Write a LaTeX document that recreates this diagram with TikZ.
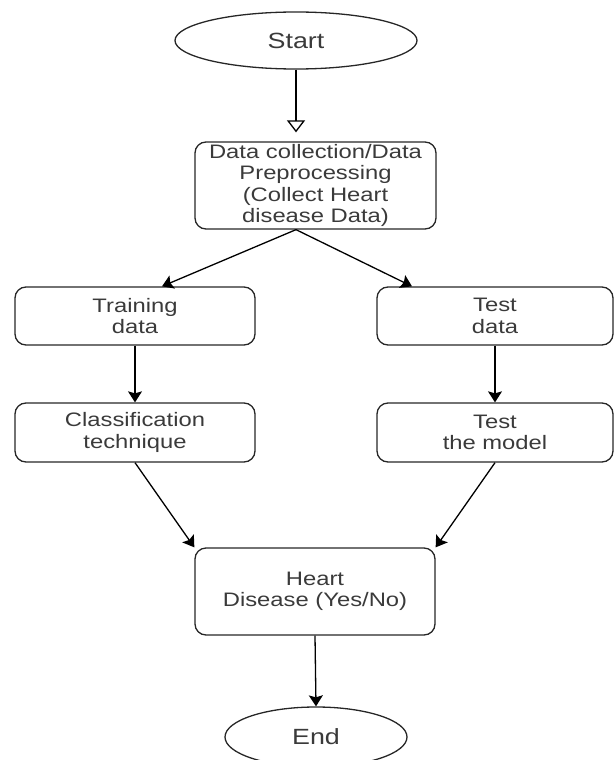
\documentclass[tikz,border=0pt]{standalone}
\usepackage{fontspec}
\setmainfont{Liberation Sans}[FakeStretch=1.22]
\usepackage{tikz}
\usetikzlibrary{calc,arrows.meta,shapes.geometric}
\usepackage{xcolor}
\definecolor{txtgray}{HTML}{3A3A3A}
\definecolor{edgegray}{HTML}{262626}

\begin{document}
\begin{tikzpicture}[x=1pt,y=-1pt,
  box/.style={draw=edgegray, line width=1.3pt, rounded corners=11pt, align=center,
    text=txtgray, font=\fontsize{19.5}{21.5}\selectfont, inner sep=0pt},
  oval/.style={draw=edgegray, line width=1.3pt, ellipse, inner sep=0pt,
    text=txtgray, font=\fontsize{22}{24}\selectfont},
  arr/.style={line width=1.3pt, -{Stealth[length=11pt,width=14pt,inset=2pt]}},
  openarr/.style={line width=1.3pt, -{Triangle[open,length=12pt,width=18pt,fill=white]}}]
\useasboundingbox (0,0) rectangle (614,760);
\node [oval, minimum width=242pt, minimum height=57pt] (start) at (296,40.5) {Start};
\node [box, minimum width=241pt, minimum height=87pt] (prep) at (315.5,185.5)
  {Data collection/Data\\Preprocessing\\(Collect Heart\\disease Data)};
\node [box, minimum width=240pt, minimum height=58pt] (train) at (135,316) {Training\\data};
\node [box, minimum width=236pt, minimum height=58pt] (test) at (495,316) {Test\\data};
\node [box, minimum width=240pt, minimum height=59pt] (clsf) at (135,432.5) {Classification\\technique};
\node [box, minimum width=236pt, minimum height=59pt] (model) at (495,432.5) {Test\\the model};
\node [box, minimum width=240pt, minimum height=87pt] (heart) at (315,591.5) {Heart\\Disease (Yes/No)};
\node [oval, minimum width=182pt, minimum height=60pt] (end) at (316,737) {End};
% connectors
\draw [openarr, shorten >=9pt] (start.south) -- (start.south |- prep.north);
\coordinate (split) at (prep.south -| start.south);
\draw [arr] (split) -- ($(train.north)+(27,0)$);
\draw [arr] (split) -- ($(test.north)+(-83,0)$);
\draw [arr] (train) -- (clsf);
\draw [arr] (test) -- (model);
\draw [arr] (clsf.south) -- (heart.north west);
\draw [arr] (model.south) -- (heart.north east);
\draw [arr] (heart.south) -- (end.north);
\end{tikzpicture}
\end{document}
